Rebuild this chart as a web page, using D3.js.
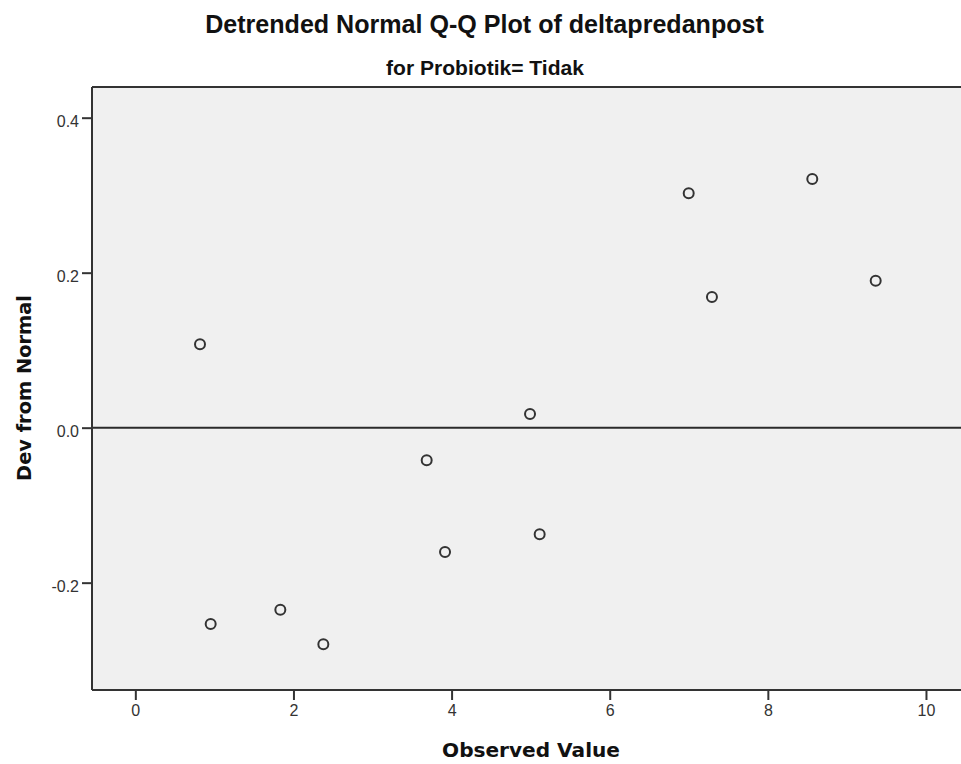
<!DOCTYPE html>
<html>
<head>
<meta charset="utf-8">
<script src="https://cdn.jsdelivr.net/npm/d3@7"></script>
<style>
  html, body { margin: 0; padding: 0; background: #fff; }
  svg { display: block; }
  .tick text { font-family: 'Liberation Sans', Arial, sans-serif !important; font-size: 16px !important; }
</style>
</head>
<body>
<svg id="chart" width="961" height="764"></svg>
<script>
// ---- data ----
const titleText = "Detrended Normal Q-Q Plot of deltapredanpost";
const subtitleText = "for Probiotik= Tidak";
const xLabel = "Observed Value";
const yLabel = "Dev from Normal";
const observed = [0.818, 0.953, 1.834, 2.378, 3.685, 3.917, 4.992, 5.114, 6.999, 7.293, 8.562, 9.364];
const devFromNormal = [0.1076, -0.2533, -0.2348, -0.2795, -0.042, -0.1604, 0.0177, -0.1376, 0.3026, 0.1686, 0.3209, 0.1897];
const xTicks = [0, 2, 4, 6, 8, 10];
const yTicks = [-0.2, 0.0, 0.2, 0.4];
const yTickLabels = ["-0.2", "0.0", "0.2", "0.4"];

// ---- layout ----
const plot = { left: 92, right: 961, top: 87, bottom: 690 };
const svg = d3.select("#chart");

const x = d3.scaleLinear().domain([-0.548, 10.443]).range([plot.left, plot.right]);
const y = d3.scaleLinear().domain([-0.3385, 0.4396]).range([plot.bottom, plot.top]);

// background
svg.append("rect")
  .attr("x", plot.left).attr("y", plot.top)
  .attr("width", plot.right - plot.left).attr("height", plot.bottom - plot.top)
  .attr("fill", "#f0f0f0");

// zero reference line
svg.append("line")
  .attr("x1", plot.left).attr("x2", plot.right)
  .attr("y1", y(0)).attr("y2", y(0))
  .attr("stroke", "#2b2b2b").attr("stroke-width", 2);

// top frame
svg.append("line").attr("x1", plot.left).attr("x2", plot.right).attr("y1", plot.top).attr("y2", plot.top)
  .attr("stroke", "#333").attr("stroke-width", 2);

// axes
const xAxis = d3.axisBottom(x).tickValues(xTicks).tickFormat(d3.format("d")).tickSize(10).tickSizeOuter(0);
const yAxis = d3.axisLeft(y).tickValues(yTicks).tickFormat((d, i) => yTickLabels[i]).tickSize(10).tickSizeOuter(0);

const gx = svg.append("g").attr("transform", `translate(0,${plot.bottom})`).call(xAxis);
const gy = svg.append("g").attr("transform", `translate(${plot.left},0)`).call(yAxis);

[gx, gy].forEach(g => {
  g.attr("font-size", null).attr("font-family", null);
  g.select(".domain").attr("stroke", "#333").attr("stroke-width", 2);
  g.selectAll(".tick line").attr("stroke", "#333").attr("stroke-width", 2);
  g.selectAll(".tick text").attr("fill", "#333");
});
gx.select(".domain").attr("d", `M${plot.left},0H${plot.right}`);
gy.select(".domain").attr("d", `M0,${plot.top}V${plot.bottom}`);
gx.selectAll(".tick text").attr("y", 15);
gy.selectAll(".tick text").attr("x", -13).attr("dy", "0.55em");

// points
svg.append("g").selectAll("circle")
  .data(observed.map((v, i) => [v, devFromNormal[i]]))
  .join("circle")
  .attr("cx", d => x(d[0]))
  .attr("cy", d => y(d[1]))
  .attr("r", 5)
  .attr("fill", "none")
  .attr("stroke", "#333")
  .attr("stroke-width", 2);

// helper to fit a text to a target width
function fit(sel, targetW) {
  const fs = parseFloat(sel.style("font-size"));
  const w = sel.node().getComputedTextLength();
  sel.style("font-size", (fs * targetW / w).toFixed(2) + "px");
}

// titles
const t = svg.append("text")
  .attr("x", 484.5).attr("y", 33)
  .attr("text-anchor", "middle")
  .style("font-family", "'Liberation Sans', Arial, sans-serif")
  .style("font-weight", "bold")
  .style("font-size", "22px")
  .attr("fill", "#111")
  .text(titleText);
fit(t, 559);

const st = svg.append("text")
  .attr("x", 485).attr("y", 75)
  .attr("text-anchor", "middle")
  .style("font-family", "'Liberation Sans Narrow', 'Liberation Sans', Arial, sans-serif")
  .style("font-weight", "bold")
  .style("font-size", "17px")
  .attr("fill", "#111")
  .text(subtitleText);
fit(st, 198);

// axis titles
const xt = svg.append("text")
  .attr("x", 531).attr("y", 756.5)
  .attr("text-anchor", "middle")
  .style("font-family", "'DejaVu Sans', Verdana, sans-serif")
  .style("font-weight", "bold")
  .style("font-size", "18px")
  .attr("fill", "#111")
  .text(xLabel);
fit(xt, 178);

const yt = svg.append("text")
  .attr("transform", `translate(31,388) rotate(-90)`)
  .attr("text-anchor", "middle")
  .style("font-family", "'DejaVu Sans', Verdana, sans-serif")
  .style("font-weight", "bold")
  .style("font-size", "18px")
  .attr("fill", "#111")
  .text(yLabel);
fit(yt, 186);
</script>
</body>
</html>
